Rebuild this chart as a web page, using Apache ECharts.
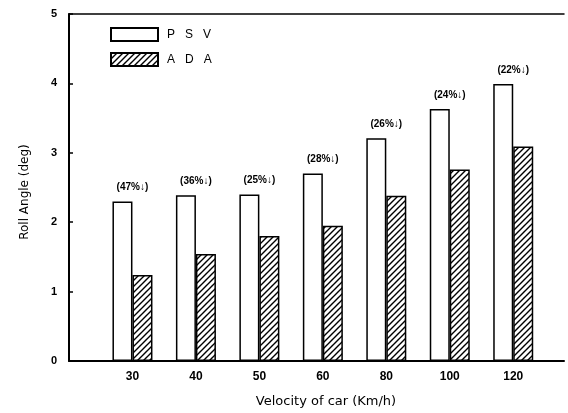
<!DOCTYPE html>
<html>
<head>
<meta charset="utf-8">
<script src="https://cdn.jsdelivr.net/npm/echarts@6/dist/echarts.min.js"></script>
<style>
  html, body { margin: 0; padding: 0; background: #fff; }
  #chart { width: 568px; height: 413px; }
</style>
</head>
<body>
<div id="chart"></div>
<script>
// Roll angle of the car body at each speed: passive suspension vs. ADA
const speeds = ['30', '40', '50', '60', '80', '100', '120'];
const psv = [2.30, 2.39, 2.40, 2.70, 3.21, 3.63, 3.99];
const ada = [1.24, 1.54, 1.80, 1.95, 2.38, 2.76, 3.09];
const reduction = ['47', '36', '25', '28', '26', '24', '22'];
const yTicks = [0, 1, 2, 3, 4, 5];

// diagonal hatch tile for the ADA bars
function hatchTile() {
  const s = 6;
  const c = document.createElement('canvas');
  c.width = s; c.height = s;
  const g = c.getContext('2d');
  g.fillStyle = '#fff';
  g.fillRect(0, 0, s, s);
  g.strokeStyle = '#000';
  g.lineWidth = 1.4;
  g.beginPath();
  g.moveTo(0, s); g.lineTo(s, 0);
  g.moveTo(-1, 1); g.lineTo(1, -1);
  g.moveTo(s - 1, s + 1); g.lineTo(s + 1, s - 1);
  g.stroke();
  return c;
}

const chart = echarts.init(document.getElementById('chart'), null, { renderer: 'canvas' });
const font = 'Liberation Sans, Arial, sans-serif';
const titleFont = 'DejaVu Sans, sans-serif';
const xMax = 7.8;

chart.setOption({
  animation: false,
  backgroundColor: '#fff',
  grid: { left: 69, right: 4, top: 14, bottom: 52 },
  legend: {
    orient: 'vertical',
    left: 110, top: 27,
    padding: 0,
    itemWidth: 47, itemHeight: 13, itemGap: 10,
    icon: 'rect',
    data: ['PSV', 'ADA'],
    formatter: n => n.split('').join('   '),
    textStyle: { fontFamily: font, fontSize: 12, color: '#000', padding: [0, 0, 0, 4] }
  },
  xAxis: [{
    type: 'value',
    min: 0, max: xMax, interval: 1,
    position: 'bottom',
    axisLine: { show: true, lineStyle: { color: '#000', width: 2 } },
    axisTick: { show: false },
    splitLine: { show: false },
    axisLabel: {
      margin: 10,
      fontFamily: font, fontSize: 12, fontWeight: 'bold', color: '#000',
      formatter: v => (Number.isInteger(v) && v >= 1 && v <= speeds.length) ? speeds[v - 1] : ''
    }
  }, {
    type: 'value',
    min: 0, max: xMax, interval: 1,
    position: 'top',
    axisLine: { show: true, onZero: false, lineStyle: { color: '#000', width: 1.5 } },
    axisTick: { show: false },
    axisLabel: { show: false },
    splitLine: { show: false }
  }],
  yAxis: {
    type: 'value',
    min: yTicks[0], max: yTicks[yTicks.length - 1], interval: 1,
    axisLine: { show: true, lineStyle: { color: '#000', width: 2 } },
    axisTick: { show: true, inside: true, length: 4, lineStyle: { color: '#000', width: 1.5 } },
    splitLine: { show: false },
    axisLabel: { margin: 12, fontFamily: font, fontSize: 11, fontWeight: 'bold', color: '#000' }
  },
  graphic: [{
    type: 'text',
    x: 326, y: 402,
    style: { text: 'Velocity of car (Km/h)', font: '13px ' + titleFont, fill: '#000', align: 'center', verticalAlign: 'middle' }
  }, {
    type: 'text',
    x: 25, y: 192,
    rotation: Math.PI / 2,
    style: { text: 'Roll Angle (deg)', font: '12px ' + titleFont, fill: '#000', align: 'center', verticalAlign: 'middle' }
  }],
  series: [{
    name: 'PSV',
    type: 'bar',
    barWidth: 20,
    barGap: '0%',
    data: psv.map((v, i) => [i + 1, v]),
    itemStyle: { color: '#fff', borderColor: '#000', borderWidth: 1.5 },
    label: {
      show: true,
      position: 'top',
      distance: 9,
      offset: [10, 0],
      fontFamily: font, fontSize: 10, fontWeight: 'bold', color: '#000',
      formatter: p => '(' + reduction[p.dataIndex] + '%↓)'
    }
  }, {
    name: 'ADA',
    type: 'bar',
    barWidth: 20,
    barGap: '0%',
    data: ada.map((v, i) => [i + 1, v]),
    itemStyle: { color: { image: hatchTile(), repeat: 'repeat' }, borderColor: '#000', borderWidth: 1.5 }
  }]
});
</script>
</body>
</html>
